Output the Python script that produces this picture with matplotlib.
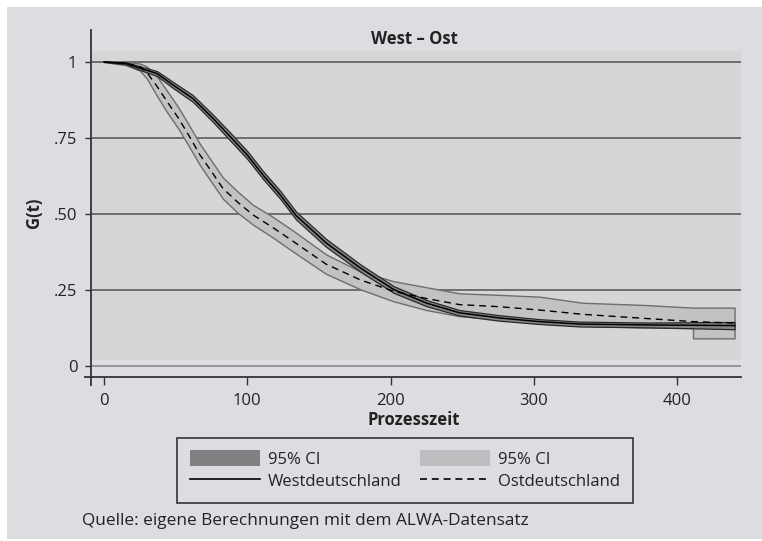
import matplotlib.pyplot as plt
from matplotlib.patches import Rectangle, Patch
from matplotlib.lines import Line2D

plt.rcParams['font.family'] = ['Open Sans', 'DejaVu Sans']
plt.rcParams['lines.scale_dashes'] = False

# Kaplan-Meier Schaetzer
t_west = [0, 15, 25, 37, 48, 62, 76, 88, 100, 111, 123, 134, 155, 179, 202, 225, 248, 276, 304, 332, 380, 411, 440]
g_west = [1.0, 0.996, 0.98, 0.962, 0.925, 0.88, 0.815, 0.755, 0.694, 0.628, 0.563, 0.495, 0.405, 0.322,
          0.252, 0.207, 0.175, 0.158, 0.146, 0.138, 0.135, 0.134, 0.133]
lo_west = [1.0, 0.993, 0.974, 0.954, 0.915, 0.869, 0.803, 0.742, 0.681, 0.615, 0.55, 0.482, 0.392, 0.31,
           0.241, 0.197, 0.166, 0.149, 0.138, 0.13, 0.127, 0.124, 0.121]
hi_west = [1.0, 0.999, 0.986, 0.97, 0.935, 0.891, 0.827, 0.768, 0.707, 0.641, 0.576, 0.508, 0.418, 0.334,
           0.263, 0.217, 0.184, 0.167, 0.154, 0.146, 0.143, 0.144, 0.145]

t_east = [0, 15, 25, 30, 37, 44, 52, 59, 67, 75, 83, 93, 104, 118, 132, 155, 179, 202, 225, 248, 276,
          304, 334, 376, 411, 411, 440]
g_east = [1.0, 0.996, 0.985, 0.965, 0.92, 0.87, 0.815, 0.76, 0.694, 0.64, 0.584, 0.54, 0.497, 0.455, 0.41,
          0.335, 0.283, 0.246, 0.222, 0.202, 0.195, 0.184, 0.17, 0.157, 0.146, 0.146, 0.141]
hi_east = [1.0, 1.0, 0.995, 0.985, 0.952, 0.905, 0.85, 0.795, 0.73, 0.675, 0.62, 0.575, 0.53, 0.49, 0.445,
           0.367, 0.311, 0.279, 0.259, 0.239, 0.234, 0.228, 0.208, 0.201, 0.192, 0.192, 0.192]
lo_east = [1.0, 0.99, 0.972, 0.945, 0.888, 0.835, 0.78, 0.725, 0.66, 0.605, 0.55, 0.505, 0.465, 0.422, 0.376,
           0.303, 0.252, 0.213, 0.184, 0.164, 0.153, 0.14, 0.132, 0.127, 0.125, 0.091, 0.091]

y_ticks = [0, 0.25, 0.5, 0.75, 1]
y_labels = ['0', '.25', '.50', '.75', '1']
x_ticks = [0, 100, 200, 300, 400]

bg = '#dcdde0'
W, H = 762, 541

fig = plt.figure(figsize=(W / 100, H / 100), dpi=100, facecolor='white')
fig.patches.append(Rectangle((7 / W, 2 / H), 755 / W, 532 / H, transform=fig.transFigure,
                             facecolor=bg, edgecolor='none', zorder=-10))

ax = fig.add_axes([91 / W, (H - 377) / H, 650 / W, 347 / H])
ax.set_facecolor('none')
ax.set_xlim(-9.07, 444.5)
ax.set_ylim(-0.0362, 1.1053)
for s in ax.spines.values():
    s.set_visible(False)

# Plotregion
ax.add_patch(Rectangle((-8.4, 0.02), 470, 1.016, facecolor='#d6d6d6', edgecolor='none', zorder=0))
ax.hlines(y_ticks[1:], -8.4, 460, colors='#5c5c5c', linewidth=1.2, zorder=1)
ax.hlines([0], -8.4, 460, colors='#8a8a8a', linewidth=1.2, zorder=1)

ax.fill_between(t_east, lo_east, hi_east, facecolor='#c2c2c4', edgecolor='#6e6e6e', linewidth=1.0, zorder=2)
ax.fill_between(t_west, lo_west, hi_west, facecolor='#858585', edgecolor='#2a2a2a', linewidth=0.9, zorder=3)
ax.plot(t_east, g_east, color='black', linewidth=1.0, dashes=(5, 3.5), zorder=4)
ax.plot(t_west, g_west, color='black', linewidth=1.1, zorder=5)

# Achsenlinien
ax.plot([0, 0], [1, -0.023], transform=ax.transAxes, color='#333333', linewidth=1.3, clip_on=False)
ax.plot([-0.0092, 1], [0, 0], transform=ax.transAxes, color='#333333', linewidth=1.3, clip_on=False)

ax.set_yticks(y_ticks)
ax.set_yticklabels(y_labels)
ax.set_xticks(x_ticks)
ax.tick_params(axis='y', length=4.3, width=1, color='#333333', pad=5.5, labelsize=12, labelcolor='#222222')
ax.tick_params(axis='x', length=5.8, width=1, color='#333333', pad=6, labelsize=12, labelcolor='#222222')

fig.text(414 / W, 1 - 39 / H, 'West – Ost', ha='center', va='center', fontsize=12, fontweight='bold',
         color='#222222')
fig.text(414 / W, 1 - 420 / H, 'Prozesszeit', ha='center', va='center', fontsize=12, fontweight='bold',
         color='#222222')
fig.text(34 / W, 1 - 213 / H, 'G(t)', ha='center', va='center', rotation=90, fontsize=12,
         fontweight='bold', color='#222222')
fig.text(82 / W, 1 - 521 / H, 'Quelle: eigene Berechnungen mit dem ALWA-Datensatz', ha='left', va='center',
         fontsize=12.4, color='#222222')

handles = [Patch(facecolor='#818184', edgecolor='none'),
           Line2D([], [], color='black', linewidth=1.2),
           Patch(facecolor='#bebec1', edgecolor='none'),
           Line2D([], [], color='black', linewidth=1.2, dashes=(5, 3.5))]
labels = ['95% CI', 'Westdeutschland', '95% CI', 'Ostdeutschland']
leg = fig.legend(handles, labels, ncol=2, loc='upper left', bbox_to_anchor=(177 / W, 1 - 437.5 / H),
                 borderaxespad=0, fontsize=12, frameon=True, fancybox=False, framealpha=1,
                 facecolor=bg, edgecolor='#333333', handlelength=4.2, handleheight=1.08,
                 handletextpad=0.5, columnspacing=1.1, labelspacing=0.3, borderpad=0.75)
leg.get_frame().set_linewidth(1.2)
for txt in leg.get_texts():
    txt.set_color('#222222')

fig.savefig('out.png', dpi=100, facecolor='white')
